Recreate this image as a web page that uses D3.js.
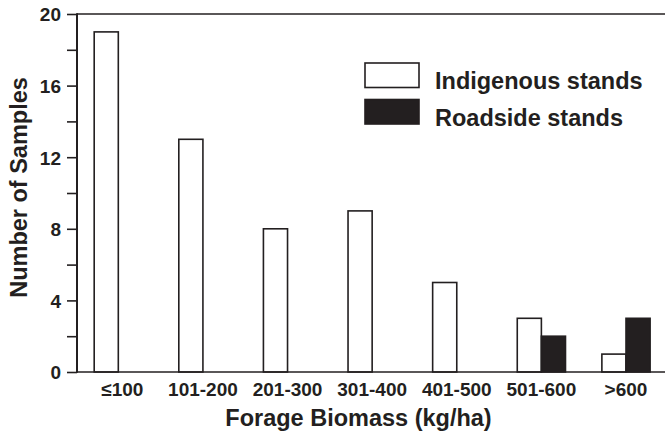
<!DOCTYPE html>
<html><head><meta charset="utf-8">
<script src="https://cdn.jsdelivr.net/npm/d3@7"></script>
<style>body{margin:0;background:#fff;} svg{display:block;} text{font-family:"Liberation Sans",Arial,sans-serif;font-weight:bold;fill:#231f20;}</style>
</head><body>
<svg id="c" width="665" height="433"></svg>
<script>
const categories = ["≤100","101-200","201-300","301-400","401-500","501-600",">600"];
const indigenous = [19,13,8,9,5,3,1];
const roadside = [0,0,0,0,0,2,3];
const seriesNames = ["Indigenous stands","Roadside stands"];
const yTicks = [0,4,8,12,16,20];
const yMinorTicks = [2,6,10,14,18];

const svg = d3.select("#c");
const ink = "#231f20";
const mLeft = 77, mRight = 665, mTop = 14, mBottom = 372;

const x = d3.scaleBand().domain(categories).range([76, 668.3]).paddingInner(0.43).paddingOuter(0.215);
const xs = d3.scaleBand().domain(seriesNames).range([0, x.bandwidth()]);
const y = d3.scaleLinear().domain([0,20]).range([mBottom, mTop]);

const data = categories.map((c,i)=>({cat:c, vals:[{s:seriesNames[0],v:indigenous[i]},{s:seriesNames[1],v:roadside[i]}]}));

// bars
const g = svg.append("g");
g.selectAll("g.grp").data(data).join("g").attr("transform", d=>`translate(${x(d.cat)},0)`)
  .selectAll("rect").data(d=>d.vals.filter(v=>v.v>0)).join("rect")
  .attr("x", d=>xs(d.s)).attr("width", xs.bandwidth())
  .attr("y", d=>y(d.v)).attr("height", d=>y(0)-y(d.v))
  .attr("fill", d=>d.s===seriesNames[0]?"#fff":ink)
  .attr("stroke", ink).attr("stroke-width", 1.6);

// y axis ticks
const yAxis = d3.axisLeft(y).tickValues(yTicks).tickSize(10).tickPadding(6).tickFormat(d3.format("d"));
const ya = svg.append("g").attr("transform",`translate(${mLeft},0)`).call(yAxis);
ya.select(".domain").remove();
ya.selectAll(".tick line").attr("stroke",ink).attr("stroke-width",1.6);
ya.selectAll(".tick text").style("font-size","19px").style("font-family","Liberation Sans, Arial, sans-serif").style("font-weight","bold").attr("fill",ink).attr("dy","0.36em");
const ym = svg.append("g").attr("transform",`translate(${mLeft},0)`).call(d3.axisLeft(y).tickValues(yMinorTicks).tickSize(10).tickFormat(""));
ym.select(".domain").remove();
ym.selectAll(".tick line").attr("stroke",ink).attr("stroke-width",1.6);

// x axis labels
const xAxis = d3.axisBottom(x).tickSize(0).tickPadding(0);
const xa = svg.append("g").attr("transform",`translate(0,${mBottom})`).call(xAxis);
xa.select(".domain").remove();
xa.selectAll(".tick text").attr("y",24).attr("dy",null).style("font-size","19px").style("font-family","Liberation Sans, Arial, sans-serif").style("font-weight","bold").attr("fill",ink);
xa.selectAll(".tick text").filter(d=>d==="≤100").attr("dx",4);

// titles
svg.append("text").attr("x", 358.5).attr("y", 426).attr("text-anchor","middle").style("font-size","23.5px").text("Forage Biomass (kg/ha)");
svg.append("text").attr("transform",`translate(27,187.5) rotate(-90)`).attr("text-anchor","middle").style("font-size","23.5px").text("Number of Samples");

// legend
const leg = svg.append("g").attr("transform","translate(365,63)");
seriesNames.forEach((s,i)=>{
  const row = leg.append("g").attr("transform",`translate(0,${i*36.5})`);
  row.append("rect").attr("width",54).attr("height",24.5).attr("fill",i===0?"#fff":ink).attr("stroke",ink).attr("stroke-width",1.6);
  row.append("text").attr("x",70).attr("y",26).style("font-size","23.5px").text(s);
});

// frame lines (drawn last, on top)
svg.append("line").attr("x1",mLeft).attr("x2",mRight).attr("y1",mTop).attr("y2",mTop).attr("stroke",ink).attr("stroke-width",1.6);
svg.append("line").attr("x1",mLeft).attr("x2",mRight).attr("y1",mBottom).attr("y2",mBottom).attr("stroke",ink).attr("stroke-width",1.6);
svg.append("path").attr("d",`M${mLeft},${mTop-0.8}V${mBottom+0.8}`).attr("stroke",ink).attr("stroke-width",2).attr("fill","none");
</script>
</body></html>
